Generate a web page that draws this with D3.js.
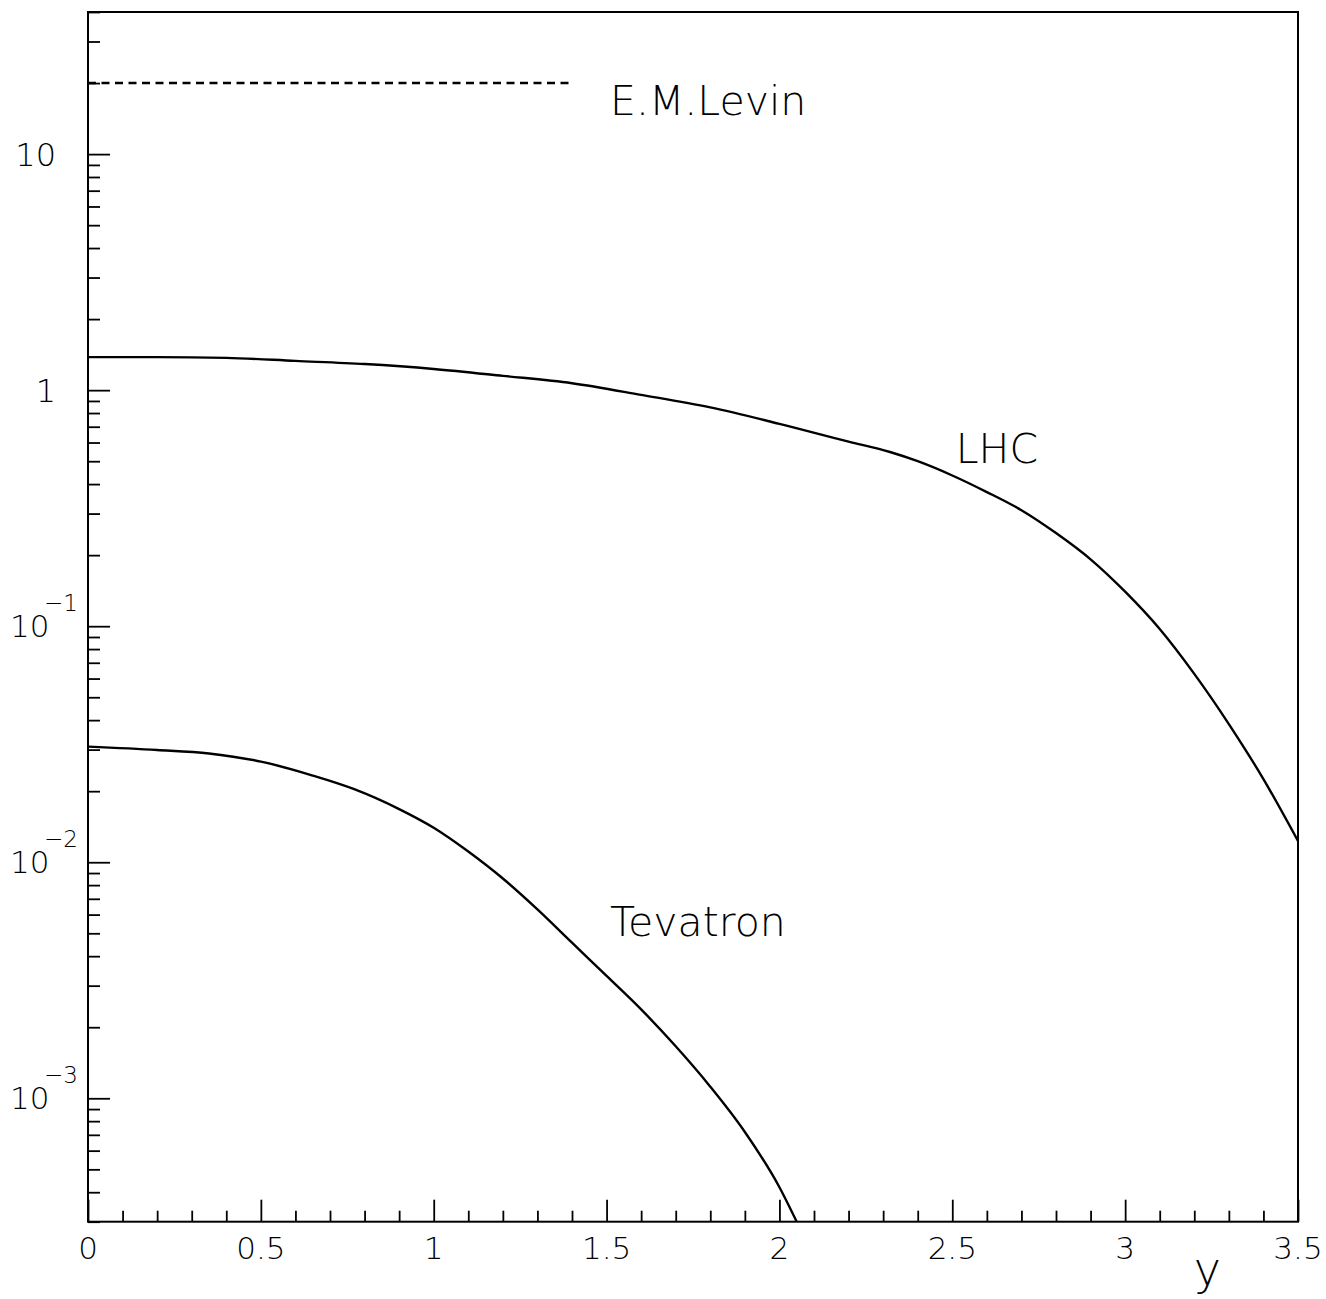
<!DOCTYPE html>
<html>
<head>
<meta charset="utf-8">
<script src="https://cdn.jsdelivr.net/npm/d3@7"></script>
<style>
  html, body { margin: 0; padding: 0; background: #fff; }
  svg text { font-family: "DejaVu Sans", "Liberation Sans", sans-serif; font-weight: 200; fill: #000; }
</style>
</head>
<body>
<svg id="chart" width="1326" height="1299"></svg>
<script>
// ---- data ----
const lhcY   = [0, 0.2, 0.4, 0.6, 0.8, 1.0, 1.2, 1.4, 1.6, 1.8, 2.0, 2.2, 2.32, 2.4, 2.5, 2.6, 2.7, 2.8, 2.9, 3.0, 3.1, 3.2, 3.3, 3.4, 3.5];
const lhcVal = [1.38, 1.38, 1.37, 1.33, 1.29, 1.23, 1.15, 1.07, 0.955, 0.845, 0.72, 0.605, 0.547, 0.50, 0.435, 0.37, 0.31, 0.248, 0.192, 0.140, 0.0973, 0.0628, 0.0385, 0.0225, 0.0123];

const tevY   = [0, 0.2, 0.35, 0.42, 0.5, 0.65, 0.77, 0.9, 1.0, 1.1, 1.2, 1.3, 1.4, 1.5, 1.6, 1.7, 1.8, 1.9, 2.0, 2.05];
const tevVal = [0.0309, 0.0299, 0.0289, 0.0280, 0.0267, 0.0233, 0.0204, 0.0168, 0.0140, 0.0111, 0.00853, 0.00631, 0.00456, 0.0033, 0.00238, 0.00166, 0.00112, 0.00072, 0.00042, 0.0003];

const levinY   = [0, 1.4];
const levinVal = [20, 20];

const xMajorTicks  = [0, 0.5, 1, 1.5, 2, 2.5, 3, 3.5];
const xTickLabels  = ["0", "0.5", "1", "1.5", "2", "2.5", "3", "3.5"];
const yMajorTicks  = [10, 1, 0.1, 0.01, 0.001];
const yLabelBase   = ["10", "1", "10", "10", "10"];
const yLabelExp    = ["", "", "\u22121", "\u22122", "\u22123"];

const curveLabels  = ["E.M.Levin", "LHC", "Tevatron"];
const curveLabelX  = [1.51, 2.51, 1.51];
const curveLabelV  = [14.7, 0.49, 0.00487];
const xTitle = "y";

// ---- layout ----
const svg = d3.select("#chart");
const L = 88, R = 1298, T = 12, B = 1221.7;

const x = d3.scaleLinear().domain([0, 3.5]).range([L, R]);
const y = d3.scaleLog().domain([3e-4, 40]).range([B, T]);

// minor ticks
const xMinor = d3.range(0, 3.5001, 0.1).filter(v => Math.abs(v * 2 - Math.round(v * 2)) > 1e-6);
const yMinor = [];
[1e-4, 1e-3, 1e-2, 1e-1, 1, 10].forEach(d => { for (let k = 2; k <= 9; k++) { const v = d * k; if (v >= 3e-4 && v <= 40) yMinor.push(v); } });

// clip
svg.append("clipPath").attr("id", "clip").append("rect")
  .attr("x", L).attr("y", T).attr("width", R - L).attr("height", B - T);

// axes ticks
const gx = svg.append("g").attr("transform", `translate(0,${B})`);
gx.call(d3.axisTop(x).tickValues(xMajorTicks).tickSize(22).tickFormat(""));
gx.append("g").call(d3.axisTop(x).tickValues(xMinor).tickSize(11).tickFormat(""));
gx.selectAll(".domain").remove();
gx.selectAll("line").attr("stroke", "#000").attr("stroke-width", 1.8);

const gy = svg.append("g").attr("transform", `translate(${L},0)`);
gy.call(d3.axisRight(y).tickValues(yMajorTicks).tickSize(22).tickFormat(""));
gy.append("g").call(d3.axisRight(y).tickValues(yMinor).tickSize(12).tickFormat(""));
gy.selectAll(".domain").remove();
gy.selectAll("line").attr("stroke", "#000").attr("stroke-width", 1.8);

// frame
svg.append("rect").attr("x", L).attr("y", T).attr("width", R - L).attr("height", B - T)
  .attr("fill", "none").attr("stroke", "#000").attr("stroke-width", 2);

// x tick labels
svg.append("g").selectAll("text").data(xMajorTicks).join("text")
  .attr("x", d => x(d)).attr("y", 1259)
  .attr("text-anchor", "middle").attr("font-size", 31)
  .text((d, i) => xTickLabels[i]);

// y tick labels
const yl = svg.append("g");
yMajorTicks.forEach((v, i) => {
  const ty = y(v);
  if (yLabelExp[i] === "") {
    yl.append("text").attr("x", 56).attr("y", ty + 12).attr("text-anchor", "end")
      .attr("font-size", 32).text(yLabelBase[i]);
  } else {
    yl.append("text").attr("x", 10).attr("y", ty + 11).attr("text-anchor", "start")
      .attr("font-size", 31).text(yLabelBase[i]);
    yl.append("text").attr("x", 44).attr("y", ty - 15).attr("text-anchor", "start")
      .attr("font-size", 23).text(yLabelExp[i]);
  }
});

// curves
const line = d3.line().x(d => x(d[0])).y(d => y(d[1])).curve(d3.curveMonotoneX);
const plot = svg.append("g").attr("clip-path", "url(#clip)");

plot.append("path").datum(lhcY.map((v, i) => [v, lhcVal[i]]))
  .attr("d", line).attr("fill", "none").attr("stroke", "#000").attr("stroke-width", 2.4);
plot.append("path").datum(tevY.map((v, i) => [v, tevVal[i]]))
  .attr("d", line).attr("fill", "none").attr("stroke", "#000").attr("stroke-width", 2.4);
plot.append("path").datum(levinY.map((v, i) => [v, levinVal[i]]))
  .attr("d", d3.line().x(d => x(d[0])).y(d => y(d[1])))
  .attr("fill", "none").attr("stroke", "#000").attr("stroke-width", 2.4)
  .attr("stroke-dasharray", "8,5.5");

// curve labels
svg.append("g").selectAll("text").data(curveLabels).join("text")
  .attr("x", (d, i) => x(curveLabelX[i])).attr("y", (d, i) => y(curveLabelV[i]))
  .attr("font-size", 41).text(d => d);

// axis title
svg.append("text").attr("x", 1221).attr("y", 1285).attr("text-anchor", "end")
  .attr("font-size", 46).text(xTitle);
</script>
</body>
</html>
